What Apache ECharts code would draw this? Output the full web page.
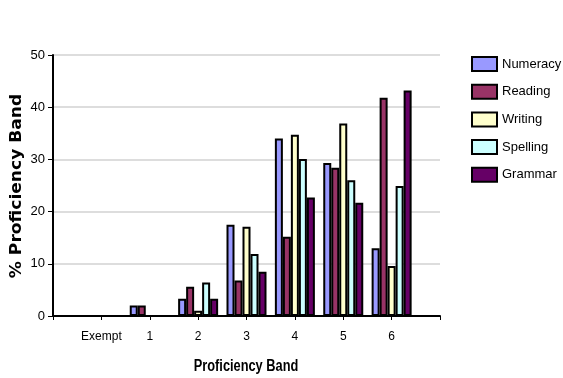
<!DOCTYPE html>
<html>
<head>
<meta charset="utf-8">
<script src="https://cdn.jsdelivr.net/npm/echarts@6/dist/echarts.min.js"></script>
<style>
  html, body { margin: 0; padding: 0; background: #fff; }
  #chart { width: 563px; height: 378px; }
</style>
</head>
<body>
<div id="chart"></div>
<script>
// Proficiency bands; blank slots pad the axis at both ends
const bands = ["", "Exempt", "1", "2", "3", "4", "5", "6", ""];

const numeracy = [null, 0, 2.0, 3.3, 17.5, 34.0, 29.3, 13.0, null];
const reading  = [null, 0, 2.0, 5.6, 6.8, 15.2, 28.4, 41.8, null];
const writing  = [null, 0, 0, 1.0, 17.1, 34.7, 36.9, 9.6, null];
const spelling = [null, 0, 0, 6.4, 11.9, 30.1, 26.0, 24.9, null];
const grammar  = [null, 0, 0, 3.3, 8.5, 22.7, 21.7, 43.2, null];

const yTicks = { min: 0, max: 50, interval: 10 };

const seriesDefs = [
  { name: "Numeracy", data: numeracy, color: "#9999FF" },
  { name: "Reading",  data: reading,  color: "#993366" },
  { name: "Writing",  data: writing,  color: "#FFFFCC" },
  { name: "Spelling", data: spelling, color: "#CCFFFF" },
  { name: "Grammar",  data: grammar,  color: "#660066" }
];

const chart = echarts.init(document.getElementById("chart"), null, { renderer: "canvas" });

const sans = "Liberation Sans, Arial, sans-serif";

chart.setOption({
  animation: false,
  backgroundColor: "#fff",
  grid: { left: 53, right: 123, top: 55, bottom: 62, containLabel: false, outerBoundsMode: "none" },
  legend: {
    orient: "vertical",
    left: 471,
    top: 56,
    padding: 0,
    itemWidth: 25,
    itemHeight: 14,
    itemGap: 11.7,
    icon: "rect",
    textStyle: { fontFamily: sans, fontSize: 13, color: "#000" },
    data: seriesDefs.map(s => s.name)
  },
  // axis titles drawn as graphic text so they can be stretched / condensed
  graphic: [{
    type: "text",
    x: 17,
    y: 186,
    rotation: Math.PI / 2,
    scaleX: 1.14,
    style: {
      text: "% Proficiency Band",
      font: "bold 15px DejaVu Sans, Verdana, sans-serif",
      fill: "#000",
      align: "center",
      verticalAlign: "middle"
    }
  }, {
    type: "text",
    x: 246,
    y: 367,
    scaleX: 0.8,
    style: {
      text: "Proficiency Band",
      font: "bold 16px Liberation Sans, Arial, sans-serif",
      fill: "#000",
      align: "center",
      verticalAlign: "middle"
    }
  }],
  xAxis: {
    type: "category",
    data: bands,
    boundaryGap: false,
    axisLine: { lineStyle: { color: "#000", width: 2 } },
    axisTick: { show: true, length: 4, lineStyle: { color: "#000", width: 1 } },
    axisLabel: { fontFamily: sans, fontSize: 12, color: "#000", margin: 15, interval: 0 },
    splitLine: { show: false }
  },
  yAxis: {
    type: "value",
    min: yTicks.min,
    max: yTicks.max,
    interval: yTicks.interval,
    axisLine: { show: true, lineStyle: { color: "#000", width: 2 } },
    axisTick: { show: true, length: 5, lineStyle: { color: "#000", width: 1 } },
    axisLabel: { fontFamily: sans, fontSize: 13, color: "#000", margin: 8 },
    splitLine: { show: true, lineStyle: { color: "#dddddd", width: 2 } }
  },
  series: seriesDefs.map(s => ({
    name: s.name,
    type: "bar",
    data: s.data,
    barWidth: 8,
    barGap: "0%",
    itemStyle: { color: s.color, borderColor: "#000", borderWidth: 2 }
  }))
});
</script>
</body>
</html>
